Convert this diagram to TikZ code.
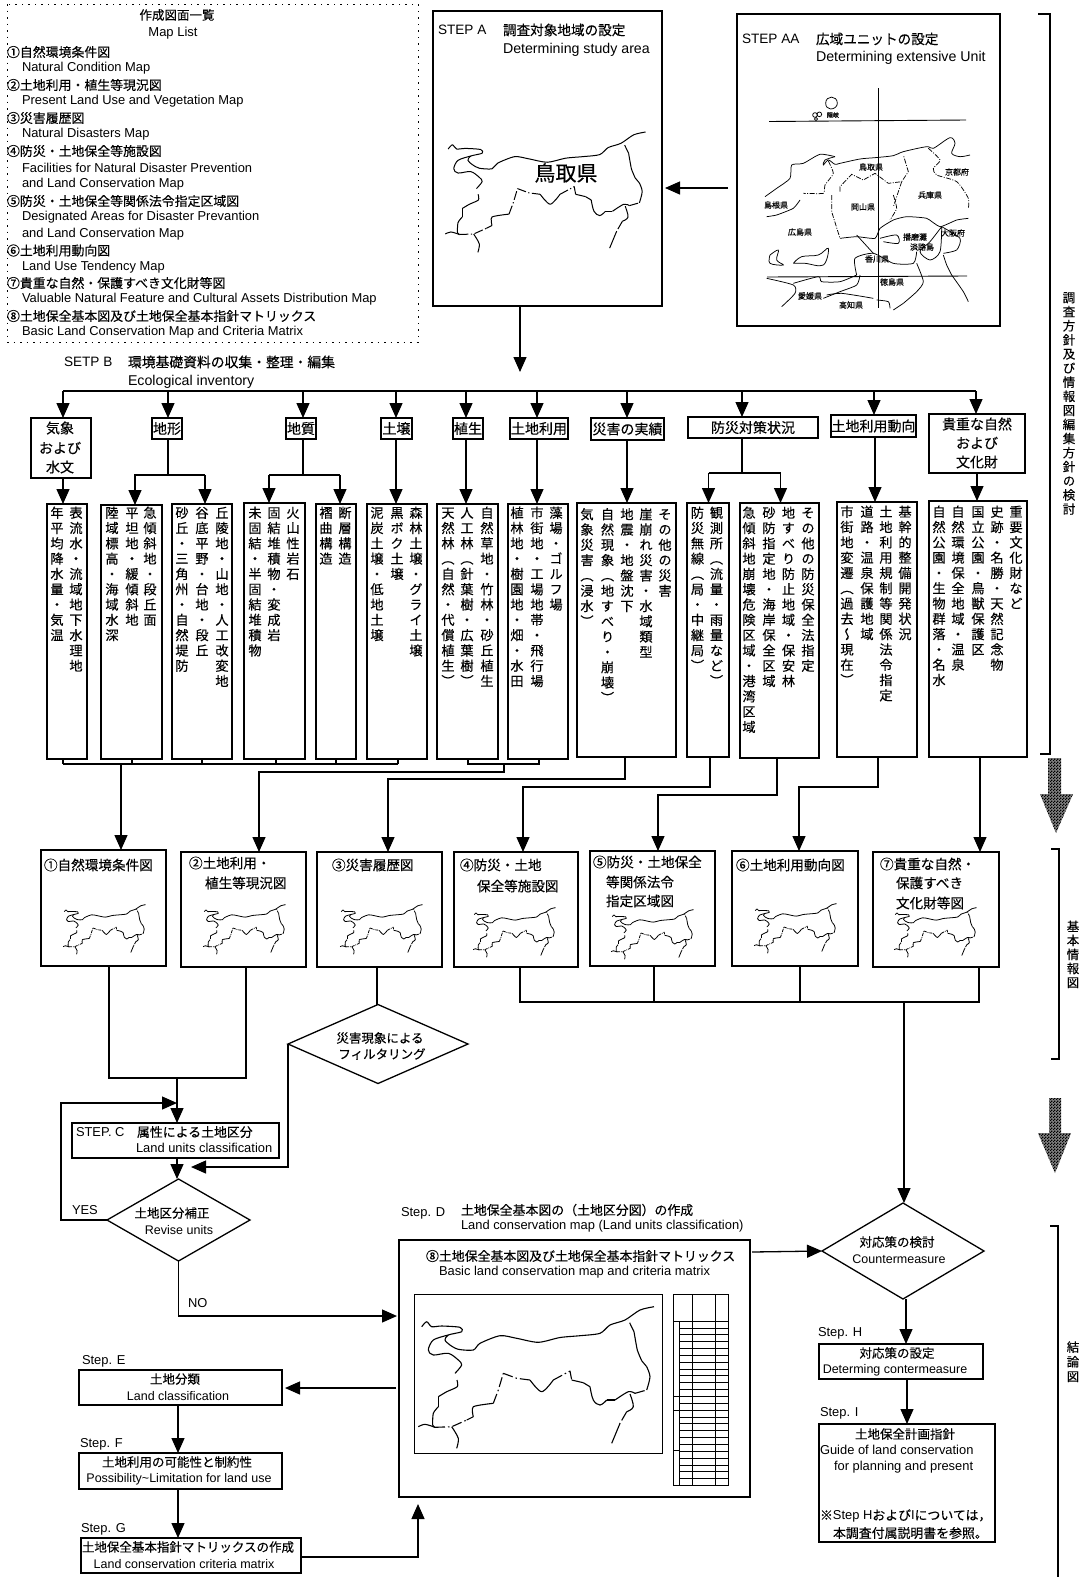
\documentclass[tikz,border=0pt]{standalone}
\usepackage{fontspec}
\setmainfont{Liberation Sans}
\newfontfamily\jp[FakeBold=0.25]{Noto Sans CJK JP}
\newfontfamily\jpv[RawFeature=+vert,FakeBold=0.25]{Noto Sans CJK JP}
\usetikzlibrary{arrows.meta,shapes.geometric,patterns}
\pgfdeclarepatternformonly{finechk}{\pgfqpoint{0pt}{0pt}}{\pgfqpoint{3pt}{3pt}}{\pgfqpoint{3pt}{3pt}}{%
  \pgfpathrectangle{\pgfqpoint{0pt}{0pt}}{\pgfqpoint{1.5pt}{1.5pt}}%
  \pgfpathrectangle{\pgfqpoint{1.5pt}{1.5pt}}{\pgfqpoint{1.5pt}{1.5pt}}%
  \pgfusepath{fill}}
\makeatletter
\newcommand\vcolumn[2]{\vbox{\offinterlineskip\jpv\@tfor\vcx:=#2\do{\hbox to 15pt{\hss\vrule height .8\dimexpr#1pt\relax depth .2\dimexpr#1pt\relax width 0pt\vcx\hss}}}}
\makeatother
\newcommand\J[1]{{\jp #1}}
\tikzset{
  x=1pt,y=-1pt,
  fs/.style={font=\fontsize{#1}{#1}\selectfont},
  boxed/.style={draw,line width=1.4pt,inner sep=0pt,outer sep=0pt,anchor=north west},
  tl/.style={anchor=west,inner sep=0pt,outer sep=0pt,fs=12.9},
  tc/.style={anchor=center,inner sep=0pt,outer sep=0pt,fs=12.5},
  hd/.style={anchor=center,inner sep=0pt,outer sep=0pt,fs=14},
  ttl/.style={anchor=west,inner sep=0pt,outer sep=0pt,fs=13.6},
  vt/.style={anchor=north,inner sep=0pt,outer sep=0pt,fs=13.2},
  wire/.style={line width=1.3pt},
  arr/.style={wire,-{Triangle[length=15pt,width=13pt]}},
  dia/.style={draw,shape=diamond,line width=1.3pt,inner sep=0pt,outer sep=0pt},
  aam/.style={line width=.75pt},
  aad/.style={line width=.75pt,dash pattern=on 5pt off 1.5pt on 1pt off 1.5pt},
  aal/.style={anchor=center,inner sep=0pt,outer sep=0pt,fs=8},
  hatch/.style={pattern=finechk,pattern color=black},
}
\newcommand\rbox[5]{\node[boxed,minimum width={(#4-#2)*1pt},minimum height={(#5-#3)*1pt}] (#1) at (#2,#3) {};}
\newcommand\vcl[4]{\node[vt] (#1) at (#2,#3) {\vcolumn{15.3}{#4}};}
\newcommand\tottori[5]{%
\begin{scope}[shift={(#1,#2)},scale=#3,line width=#4,line join=round]
\draw plot[smooth,tension=.45] coordinates {(3.7,4.7)(8.7,-.3)(13.7,4.7)(23.7,4)(42,5.3)(43.7,9.7)(30.3,13)(27,18)(32,23)(40.3,27.3)(55.3,28)(62,21.3)(82,13.7)(98.7,16.3)(120.3,20.3)(142,15.5)(162,13.7)(182,11.3)(192,3)(207,-2)(222,-12)(236,-15.3)};
\draw plot[smooth,tension=.5] coordinates {(30.3,13)(15.3,18)(10.3,28)(15.3,33)(30.3,31.3)(40.3,38)(43.7,43)(37,51.3)};
\draw plot[smooth,tension=.4] coordinates {(39,58)(39.3,64.7)(28.7,69.7)(20.3,74.7)};
\draw[dash pattern=#5] (20.3,74.7)--(20.3,84.7);
\draw plot[smooth,tension=.4] coordinates {(20.3,84.7)(15.3,91.3)(14.7,103)(17,105.3)};
\draw plot[smooth,tension=.5] coordinates {(0.3,104.7)(7,102.3)(17,105.3)};
\draw[dash pattern=#5] (17,105.3)--(33.7,104.7)--(48.7,98);
\draw plot[smooth,tension=.5] coordinates {(33.7,104.7)(40.3,116.3)(38.7,126.3)};
\draw[dash pattern=#5] (48.7,98)--(55.3,94.7);
\draw plot[smooth,tension=.4] coordinates {(55.3,94.7)(55.3,84.7)(75.3,81.3)};
\draw[dash pattern=#5] (75.3,81.3)--(80.3,68)--(85.3,51.3);
\draw[dash pattern=#5] (85.3,51.3)--(98.7,56.3)--(112,58);
\draw plot[smooth,tension=.5] coordinates {(112,58)(123.7,69.7)(135.3,58)};
\draw[dash pattern=#5] (135.3,58)--(152,49)--(153.7,58);
\draw plot[smooth,tension=.4] coordinates {(153.7,58)(165.3,60.7)};
\draw[dash pattern=#5] (165.3,60.7)--(172,64.7);
\draw plot[smooth,tension=.6] coordinates {(172,64.7)(175.3,78)(182,83)(188.7,78)};
\draw[dash pattern=#5] (188.7,78)--(197,78);
\draw plot[smooth,tension=.5] coordinates {(197,78)(210.3,69.7)(217,71.3)};
\draw[dash pattern=#5] (217,71.3)--(228.7,68);
\draw plot[smooth,tension=.5] coordinates {(228.7,68)(232,54.7)(228.7,44.7)};
\draw[dash pattern=#5] (228.7,44.7)--(223.7,38.7);
\draw plot[smooth,tension=.3] coordinates {(223.7,38.7)(219.3,28)(216,9.7)};
\draw[dash pattern=#5] (216,9.7)--(210.3,-2);
\draw plot[smooth,tension=.6] coordinates {(212,72)(215.3,84.7)(208.7,89.7)};
\draw[dash pattern=#5] (208.7,89.7)--(202,101.3);
\draw plot[smooth,tension=.3] coordinates {(202,101.3)(193.7,121.3)};
\end{scope}}
\newcommand\thumb[2]{\tottori{#1}{#2}{.35}{.8pt}{on 3pt off 1pt on .8pt off 1pt}}
\begin{document}
\begin{tikzpicture}
\useasboundingbox (0,0) rectangle (1081,1577);
\fill[white] (0,0) rectangle (1081,1577);
% ===== Map list
\draw[line width=1pt,dash pattern=on 1.5pt off 5pt] (7,4) rectangle (418,342);
\node[tc] (mlA) at (177,15) {\J{作成図面一覧}};
\node[tc,fs=13] (mlB) at (173,33.5) {Map List};
\node[tl] (ml1) at (7,52) {\J{①自然環境条件図}};
\node[tl] (ml2) at (22,68.5) {Natural Condition Map};
\node[tl] (ml3) at (7,85) {\J{②土地利用・植生等現況図}};
\node[tl] (ml4) at (22,101.5) {Present Land Use and Vegetation Map};
\node[tl] (ml5) at (7,118) {\J{③災害履歴図}};
\node[tl] (ml6) at (22,134.5) {Natural Disasters Map};
\node[tl] (ml7) at (7,151) {\J{④防災・土地保全等施設図}};
\node[tl] (ml8) at (22,167.5) {Facilities for Natural Disaster Prevention};
\node[tl] (ml9) at (22,184.5) {and Land Conservation Map};
\node[tl] (ml10) at (7,201) {\J{⑤防災・土地保全等関係法令指定区域図}};
\node[tl] (ml11) at (22,217.5) {Designated Areas for Disaster Prevantion};
\node[tl] (ml12) at (22,234) {and Land Conservation Map};
\node[tl] (ml13) at (7,250.5) {\J{⑥土地利用動向図}};
\node[tl] (ml14) at (22,267) {Land Use Tendency Map};
\node[tl] (ml15) at (7,283) {\J{⑦貴重な自然・保護すべき文化財等図}};
\node[tl] (ml16) at (22,299.5) {Valuable Natural Feature and Cultural Assets Distribution Map};
\node[tl] (ml17) at (7,316) {\J{⑧土地保全基本図及び土地保全基本指針マトリックス}};
\node[tl] (ml18) at (22,332.5) {Basic Land Conservation Map and Criteria Matrix};
% ===== Step A
\rbox{stepA}{433}{11}{662}{306}
\node[ttl] (aT1) at (438,30) {STEP A};
\node[ttl] (aT2) at (503,30) {\J{調査対象地域の設定}};
\node[ttl,fs=14.2] (aT3) at (503,50) {Determining study area};
\tottori{445}{145}{.85}{1pt}{on 9pt off 2.5pt on 1.2pt off 2.5pt}
\node[anchor=center,inner sep=0pt,fs=21] (aT4) at (566,173) {\J{鳥取県}};
% ===== Step AA
\rbox{stepAA}{737}{14}{1000}{326}
\node[ttl] (aaT1) at (742,39) {STEP AA};
\node[ttl] (aaT2) at (816,39) {\J{広域ユニットの設定}};
\node[ttl,fs=14.2] (aaT3) at (816,58) {Determining extensive Unit};
\draw[line width=.9pt] (878.5,88)--(878.5,308);
\draw[line width=.9pt] (769,121.5)--(966,120);
\draw[line width=.9pt] (767,277)--(967,276);
\begin{scope}[shift={(760,85)},scale=1/3]
 \draw[aam] (197,55) .. controls (197,30) and (232,30) .. (232,55) .. controls (232,65) and (222,72) .. (212,72) .. controls (204,72) and (197,65) .. (197,55) -- cycle;
 \draw[aam] (165,90) circle (7); \draw[aam] (178,88) circle (7); \draw[aam] (168,102) circle (5);
 \draw[aam] plot[smooth,tension=.4] coordinates {(15,335)(50,310)(90,280)(95,240)(130,235)(180,208)(225,215)};
 \draw[aam] plot[smooth,tension=.5] coordinates {(225,215)(195,225)(190,240)(205,225)(225,238)(240,235)(300,222)(345,218)(400,212)(430,200)(500,185)(520,190)(570,158)(585,175)(575,205)(600,215)(630,210)};
 \draw[aad] plot[smooth,tension=.3] coordinates {(205,228)(220,265)(195,300)(190,325)(130,325)};
 \draw[aad] (240,320)--(240,305)--(275,268)--(310,285)--(345,265)--(385,295)--(425,290)--(445,260)--(430,210);
 \draw[aad] (425,290)--(400,365);
 \draw[aad] plot[smooth,tension=.4] coordinates {(505,190)(540,225)(520,250)(530,270)(590,290)(625,340)(625,370)};
\end{scope}
\begin{scope}[shift={(760,195)},scale=1/3]
 \draw[aam] plot[smooth,tension=.3] coordinates {(20,65)(50,60)(100,40)(120,15)};
 \draw[aam] plot[smooth,tension=.3] coordinates {(240,130)(290,125)(345,130)(360,100)(400,75)(440,65)(500,70)(540,95)(590,75)(625,70)};
 \draw[aam] plot[smooth,tension=.5] coordinates {(545,95)(510,140)(480,170)(510,195)(540,170)(545,95)};
 \draw[aam] plot[smooth,tension=.4] coordinates {(545,95)(600,130)(590,165)(550,175)};
 \draw[aad] (215,0)--(215,50)--(240,130);
 \draw[aad] plot[smooth,tension=.3] coordinates {(400,0)(410,40)(390,75)};
 \draw[aam] plot[smooth,tension=.4] coordinates {(20,250)(100,270)(105,295)(65,335)};
 \draw[aam] plot[smooth,tension=.4] coordinates {(100,265)(175,245)(185,260)(240,260)(290,240)};
 \draw[aam] plot[smooth,tension=.4] coordinates {(290,240)(285,190)(340,175)(400,205)(460,205)(470,170)};
 \draw[aam] plot[smooth,tension=.4] coordinates {(470,205)(490,260)(470,290)(430,325)};
 \draw[aam] plot[smooth,tension=.4] coordinates {(575,240)(560,210)(550,180)};
 \draw[aam] plot[smooth,tension=.4] coordinates {(575,240)(610,290)(625,320)};
 \draw[aam] plot[smooth,tension=.4] coordinates {(190,310)(240,290)(290,270)(300,240)};
 \draw[aam] plot[smooth,tension=.4] coordinates {(340,175)(290,120)};
 \draw[aam] plot[smooth,tension=.6] coordinates {(30,180)(55,165)(50,195)(70,210)(30,205)(30,180)};
 \draw[aam] plot[smooth,tension=.6] coordinates {(100,205)(125,185)(175,180)(205,160)(190,210)(135,205)(100,205)};
 \draw[aam] plot[smooth,tension=.5] coordinates {(360,130)(410,120)(415,145)(370,140)};
 \draw[aam] plot[smooth,tension=.4] coordinates {(430,325)(400,345)};
 \draw[aam] plot[smooth,tension=.4] coordinates {(350,315)(385,320)(390,340)};
 \draw[aam] plot[smooth,tension=.4] coordinates {(200,300)(245,295)(340,310)};
\end{scope}
\node[aal,fs=6] (aaL0) at (833,115) {\J{隠岐}};
\node[aal] (aaL1) at (871,167) {\J{鳥取県}};
\node[aal] (aaL2) at (957,172) {\J{京都府}};
\node[aal] (aaL3) at (930,195) {\J{兵庫県}};
\node[aal] (aaL4) at (776,205) {\J{島根県}};
\node[aal] (aaL5) at (863,207) {\J{岡山県}};
\node[aal] (aaL6) at (800,232) {\J{広島県}};
\node[aal] (aaL7) at (915,237) {\J{播磨灘}};
\node[aal] (aaL8) at (922,247) {\J{淡路島}};
\node[aal] (aaL9) at (953,233) {\J{大阪府}};
\node[aal] (aaL10) at (877,259) {\J{香川県}};
\node[aal] (aaL11) at (892,282) {\J{徳島県}};
\node[aal] (aaL12) at (810,296) {\J{愛媛県}};
\node[aal] (aaL13) at (851,305) {\J{高知県}};
\coordinate (aaOut) at (728,188);
\coordinate (aaTip) at (665,188);
\draw[arr] (aaOut) -- (aaTip);
% ===== Step B
\node[ttl] (bT1) at (64,362) {SETP B};
\node[ttl,fs=13.8] (bT2) at (128,362) {\J{環境基礎資料の収集・整理・編集}};
\node[ttl,fs=14.2] (bT3) at (128,382) {Ecological inventory};
\coordinate (busL) at (63,391);
\coordinate (busR) at (976,391);
\draw[wire] (busL) -- (busR);
\draw[arr] (520,0 |- stepA.south) -- (520,372);
% headers
\rbox{h1}{31}{418}{91}{478}
\rbox{h2}{152}{418}{182}{439}
\rbox{h3}{286}{418}{316}{439}
\rbox{h4}{381}{418}{412}{439}
\rbox{h5}{453}{418}{483}{439}
\rbox{h6}{510}{418}{568}{439}
\rbox{h7}{591}{418}{664}{440}
\rbox{h8}{688}{417}{818}{438}
\rbox{h9}{831}{415}{916}{437}
\rbox{h10}{929}{414}{1025}{473}
\node[hd] (h1a) at (60,428) {\J{気象}};
\node[hd] (h1b) at (60,448) {\J{および}};
\node[hd] (h1c) at (60,467) {\J{水文}};
\node[hd] (h2a) at (h2) {\J{地形}};
\node[hd] (h3a) at (h3) {\J{地質}};
\node[hd] (h4a) at (h4) {\J{土壌}};
\node[hd] (h5a) at (h5) {\J{植生}};
\node[hd] (h6a) at (h6) {\J{土地利用}};
\node[hd] (h7a) at (h7) {\J{災害の実績}};
\node[hd] (h8a) at (h8) {\J{防災対策状況}};
\node[hd] (h9a) at (h9) {\J{土地利用動向}};
\node[hd] (h10a) at (977,424) {\J{貴重な自然}};
\node[hd] (h10b) at (977,443) {\J{および}};
\node[hd] (h10c) at (977,462) {\J{文化財}};
\foreach \xx/\nn in {63/h1,168/h2,303/h3,396/h4,466/h5,537/h6,627/h7,742/h8,874/h9,976/h10}
  \draw[arr] (\xx,391) -- (\xx,0 |- \nn.north);
% content boxes
\rbox{c1}{47}{504}{87}{759}
\rbox{c2}{101}{505}{162}{759}
\rbox{c3}{172}{504}{232}{759}
\rbox{c4}{244}{503}{305}{759}
\rbox{c5}{316}{504}{356}{759}
\rbox{c6}{367}{504}{427}{759}
\rbox{c7}{437}{504}{498}{759}
\rbox{c8}{508}{504}{568}{759}
\rbox{c9}{577}{503}{676}{757}
\rbox{c10}{687}{503}{729}{757}
\rbox{c11}{740}{503}{819}{758}
\rbox{c12}{837}{502}{917}{757}
\rbox{c13}{929}{501}{1027}{757}
\vcl{v1a}{76}{505.5}{表流水・流域地下水理地}
\vcl{v1b}{57}{505.5}{年平均降水量・気温}
\vcl{v2a}{150}{505.5}{急傾斜地・段丘面}
\vcl{v2b}{132}{505.5}{平坦地・緩傾斜地}
\vcl{v2c}{112}{505.5}{陸域標高・海域水深}
\vcl{v3a}{222}{505.5}{丘陵地・山地・人工改変地}
\vcl{v3b}{202}{505.5}{谷底平野・台地・段丘}
\vcl{v3c}{182}{505.5}{砂丘・三角州・自然堤防}
\vcl{v4a}{293}{505.5}{火山性岩石}
\vcl{v4b}{274}{505.5}{固結堆積物・変成岩}
\vcl{v4c}{255}{505.5}{未固結・半固結堆積物}
\vcl{v5a}{345}{505.5}{断層構造}
\vcl{v5b}{326}{505.5}{褶曲構造}
\vcl{v6a}{416}{505.5}{森林土壌・グライ土壌}
\vcl{v6b}{397}{505.5}{黒ボク土壌}
\vcl{v6c}{377}{505.5}{泥炭土壌・低地土壌}
\vcl{v7a}{487}{505.5}{自然草地・竹林・砂丘植生}
\vcl{v7b}{467}{505.5}{人工林（針葉樹・広葉樹）}
\vcl{v7c}{448}{505.5}{天然林（自然・代償植生）}
\vcl{v8a}{556}{505.5}{藻場・ゴルフ場}
\vcl{v8b}{537}{505.5}{市街地・工場地帯・飛行場}
\vcl{v8c}{517}{505.5}{植林地・樹園地・畑・水田}
\vcl{v9a}{665}{507}{その他の災害}
\vcl{v9b}{646}{507}{崖崩れ災害・水域類型}
\vcl{v9c}{627}{507}{地震・地盤沈下}
\vcl{v9d}{607.5}{507}{自然現象（地すべり・崩壊）}
\vcl{v9e}{587}{507}{気象災害（浸水）}
\vcl{v10a}{716.5}{505.5}{観測所（流量・雨量など）}
\vcl{v10b}{697.5}{505.5}{防災無線（局・中継局）}
\vcl{v11a}{808}{505.5}{その他の防災保全法指定}
\vcl{v11b}{788.5}{505.5}{地すべり防止地域・保安林}
\vcl{v11c}{769}{505.5}{砂防指定地・海岸保全区域}
\vcl{v11d}{749}{505.5}{急傾斜地崩壊危険区域・港湾区域}
\vcl{v12a}{905}{504.5}{基幹的整備開発状況}
\vcl{v12b}{886}{504.5}{土地利用規制等関係法令指定}
\vcl{v12c}{867}{504.5}{道路・温泉保護地域}
\vcl{v12d}{847}{504.5}{市街地変遷（過去～現在）}
\vcl{v13a}{1016}{504.5}{重要文化財など}
\vcl{v13b}{997}{504.5}{史跡・名勝・天然記念物}
\vcl{v13c}{978}{504.5}{国立公園・鳥獣保護区}
\vcl{v13d}{958}{504.5}{自然環境保全地域・温泉}
\vcl{v13e}{939}{504.5}{自然公園・生物群落・名水}
% header to content
\draw[arr] (63,0 |- h1.south) -- (63,0 |- c1.north);
\draw[wire] (168,0 |- h2.south) -- (168,475);
\draw[wire] (134,475) -- (205,475);
\draw[arr] (135,475) -- (135,0 |- c2.north);
\draw[arr] (205,475) -- (205,0 |- c3.north);
\draw[wire] (303,0 |- h3.south) -- (303,475);
\draw[wire] (269,475) -- (340,475);
\draw[arr] (269,475) -- (269,0 |- c4.north);
\draw[arr] (340,475) -- (340,0 |- c5.north);
\draw[arr] (396,0 |- h4.south) -- (396,0 |- c6.north);
\draw[arr] (466,0 |- h5.south) -- (466,0 |- c7.north);
\draw[arr] (537,0 |- h6.south) -- (537,0 |- c8.north);
\draw[arr] (627,0 |- h7.south) -- (627,0 |- c9.north);
\draw[wire] (742,0 |- h8.south) -- (742,473);
\draw[wire] (708.5,473) -- (780.5,473);
\draw[arr] (708.5,473) -- (708.5,0 |- c10.north);
\draw[arr] (780.5,473) -- (780.5,0 |- c11.north);
\draw[arr] (875,0 |- h9.south) -- (875,0 |- c12.north);
\draw[arr] (977,0 |- h10.south) -- (977,0 |- c13.north);
% info maps
\rbox{m1}{41}{850}{166}{966}
\rbox{m2}{181}{852}{306}{967}
\rbox{m3}{317}{852}{442}{967}
\rbox{m4}{454}{852}{578}{967}
\rbox{m5}{590}{851}{715}{966}
\rbox{m6}{732}{851}{858}{966}
\rbox{m7}{873}{852}{999}{967}
\node[ttl] (m1a) at (44,865) {\J{①自然環境条件図}};
\node[ttl] (m2a) at (189,863) {\J{②土地利用・}};
\node[ttl] (m2b) at (205,883) {\J{植生等現況図}};
\node[ttl] (m3a) at (332,865) {\J{③災害履歴図}};
\node[ttl] (m4a) at (460,865) {\J{④防災・土地}};
\node[ttl] (m4b) at (477,886) {\J{保全等施設図}};
\node[ttl] (m5a) at (593,862) {\J{⑤防災・土地保全}};
\node[ttl] (m5b) at (606,882) {\J{等関係法令}};
\node[ttl] (m5c) at (606,901) {\J{指定区域図}};
\node[ttl] (m6a) at (736,865) {\J{⑥土地利用動向図}};
\node[ttl] (m7a) at (880,864) {\J{⑦貴重な自然・}};
\node[ttl] (m7b) at (896,883) {\J{保護すべき}};
\node[ttl] (m7c) at (896,903) {\J{文化財等図}};
\thumb{63}{910}
\thumb{203}{910}
\thumb{340}{910}
\thumb{473}{913}
\thumb{611}{915}
\thumb{754}{909}
\thumb{894}{913}
% content to maps
\draw[wire] (63,0 |- c1.south) -- (63,764);
\draw[wire] (132,0 |- c2.south) -- (132,764);
\draw[wire] (202,0 |- c3.south) -- (202,764);
\draw[wire] (276,0 |- c4.south) -- (276,764);
\draw[wire] (336,0 |- c5.south) -- (336,764);
\draw[wire] (398,0 |- c6.south) -- (398,764);
\draw[wire] (63,764) -- (398,764);
\draw[arr] (121,764) -- (121,0 |- m1.north);
\draw[wire] (468,0 |- c7.south) -- (468,764) -- (539,764) -- (539,0 |- c8.south);
\draw[arr] (504,764) -- (504,772) -- (259,772) -- (259,0 |- m2.north);
\draw[arr] (625,0 |- c9.south) -- (625,779) -- (388,779) -- (388,0 |- m3.north);
\draw[arr] (710,0 |- c10.south) -- (710,787) -- (523,787) -- (523,0 |- m4.north);
\draw[arr] (777,0 |- c11.south) -- (777,795) -- (658,795) -- (658,0 |- m5.north);
\draw[arr] (878,0 |- c12.south) -- (878,787) -- (799,787) -- (799,0 |- m6.north);
\draw[arr] (980,0 |- c13.south) -- (980,0 |- m7.north);
% lower flows
\draw[wire] (520,0 |- m4.south) -- (520,1002) -- (979,1002) -- (979,0 |- m7.south);
\draw[wire] (654,0 |- m5.south) -- (654,1002);
\draw[wire] (800,0 |- m6.south) -- (800,1002);
\node[dia,minimum width=162pt,minimum height=96pt,aspect=1.69] (cm) at (903,1251) {};
\draw[arr] (904,1002) -- (904,0 |- cm.north);
\node[tc] (cmT1) at (897,1242) {\J{対応策の検討}};
\node[tc] (cmT2) at (899,1259) {Countermeasure};
% step C
\rbox{sc}{72}{1123}{279}{1158}
\node[tl] (scT1) at (76,1132) {STEP. C};
\node[tl] (scT2) at (137,1132) {\J{属性による土地区分}};
\node[tl] (scT3) at (136,1148) {Land units classification};
\draw[wire] (109,0 |- m1.south) -- (109,1078) -- (246,1078) -- (246,0 |- m2.south);
\draw[arr] (177,1078) -- (177,0 |- sc.north);
\node[dia,minimum width=180pt,minimum height=79pt,aspect=2.28] (flt) at (378,1044) {};
\draw[wire] (377,0 |- m3.south) -- (377,0 |- flt.north);
\node[tc] (fltT1) at (380,1038) {\J{災害現象による}};
\node[tc] (fltT2) at (382,1054) {\J{フィルタリング}};
\coordinate (fltEnd) at (191,1167);
\draw[arr] (flt.west) -- (288,1167) -- (fltEnd);
\node[dia,minimum width=143pt,minimum height=82pt,aspect=1.74] (rv) at (178.5,1220) {};
\draw[arr] (177,0 |- sc.south) -- (177,0 |- rv.north);
\node[tc] (rvT1) at (172,1213) {\J{土地区分補正}};
\node[tc] (rvT2) at (179,1230) {Revise units};
\coordinate (loopTip) at (177,1103);
\draw[arr] (rv.west) -- (61,1220) -- (61,1103) -- (loopTip);
\node[tl] (yes) at (72,1210) {YES};
\node[tl] (no) at (188,1303) {NO};
% step D
\node[tl] (dT1) at (401,1213) {Step. D};
\node[tl] (dT2) at (461,1210) {\J{土地保全基本図の（土地区分図）の作成}};
\node[tl] (dT3) at (461,1226) {Land conservation map (Land units classification)};
\rbox{sd}{399}{1240}{750}{1497}
\node[tl] (dT4) at (426,1256) {\J{⑧土地保全基本図及び土地保全基本指針マトリックス}};
\node[tl] (dT5) at (439,1272) {Basic land conservation map and criteria matrix};
\draw[line width=1pt] (414,1294) rectangle (662,1453);
\tottori{418}{1322}{1}{1.1pt}{on 10pt off 3pt on 1.5pt off 3pt}
% matrix
\draw[line width=.8pt] (673,1294) rectangle (728,1485);
\draw[line width=.8pt] (692,1294) -- (692,1485);
\draw[line width=.8pt] (715,1294) -- (715,1485);
\draw[line width=.8pt] (673,1321) -- (728,1321);
\draw[line width=.8pt] (679,1321) -- (679,1485);
\foreach \i in {1,...,23} \draw[line width=.7pt] (679,{1321+\i*6.85}) -- (728,{1321+\i*6.85});
\draw[line width=.7pt] (673,1396.5) -- (679,1396.5);
\draw[line width=.7pt] (673,1410) -- (679,1410);
\draw[line width=.7pt] (673,1450.5) -- (679,1450.5);
\draw[arr] (178.8,0 |- rv.south) -- (178.8,1316) -- (397,1316);
\draw[arr] (752,1252) -- (cm.west);
% E F G
\rbox{se}{79}{1370}{282}{1405}
\rbox{sf}{79}{1453}{282}{1489}
\rbox{sg}{81}{1538}{301}{1573}
\node[tl] (eL) at (82,1361) {Step. E};
\node[tc] (eT1) at (175,1379) {\J{土地分類}};
\node[tc] (eT2) at (178,1396) {Land classification};
\node[tl] (fL) at (80,1444) {Step. F};
\node[tc] (fT1) at (177,1462) {\J{土地利用の可能性と制約性}};
\node[tc] (fT2) at (179,1479) {Possibility\textasciitilde Limitation for land use};
\node[tl] (gL) at (81,1529) {Step. G};
\node[tc] (gT1) at (188,1547) {\J{土地保全基本指針マトリックスの作成}};
\node[tc] (gT2) at (184,1564) {Land conservation criteria matrix};
\draw[arr] (396,1388) -- (285,1388);
\draw[arr] (178,0 |- se.south) -- (178,0 |- sf.north);
\draw[arr] (178,0 |- sf.south) -- (178,0 |- sg.north);
\draw[arr] (sg.east |- 0,1557) -- (418,1557) -- (418,1504);
% H I
\rbox{sh}{819}{1344}{983}{1379}
\rbox{si}{819}{1424}{995}{1542}
\node[tl] (hL) at (818,1333) {Step. H};
\node[tc] (hT1) at (897,1353) {\J{対応策の設定}};
\node[tc] (hT2) at (895,1370) {Determing contermeasure};
\node[tl] (iL) at (820,1413) {Step. I};
\node[tc] (iT1) at (905,1434) {\J{土地保全計画指針}};
\node[tl] (iT2) at (820,1450) {Guide of land conservation};
\node[tl] (iT3) at (834,1467) {for planning and present};
\node[tl] (iT4) at (820,1516) {\J{※}Step H\J{および}I\J{については，}};
\node[tl] (iT5) at (833,1533) {\J{本調査付属説明書を参照。}};
\draw[arr] (906,0 |- cm.south) -- (906,0 |- sh.north);
\draw[arr] (907,0 |- sh.south) -- (907,0 |- si.north);
% brackets
\draw[wire] (1038,14) -- (1050,14) -- (1050,754) -- (1040,754);
\draw[wire] (1051,849) -- (1059,849) -- (1059,1059) -- (1051,1059);
\draw[wire] (1050,1226) -- (1058,1226) -- (1058,1577);
\node[vt,fs=12.5] (sideA) at (1069,291) {\vcolumn{14.1}{調査方針及び情報図編集方針の検討}};
\node[vt,fs=12.5] (sideB) at (1073,920) {\vcolumn{14}{基本情報図}};
\node[vt,fs=12.5] (sideC) at (1073,1340) {\vcolumn{14.7}{結論図}};
% hatched arrows
\path[fill=black!50] (1048,758) -- (1061,758) -- (1061,794) -- (1073,794) -- (1056,833) -- (1040,794) -- (1048,794) -- cycle;
\path[hatch] (1048,758) -- (1061,758) -- (1061,794) -- (1073,794) -- (1056,833) -- (1040,794) -- (1048,794) -- cycle;
\path[fill=black!50] (1049,1098) -- (1061,1098) -- (1061,1133) -- (1071,1133) -- (1055,1173) -- (1038,1133) -- (1049,1133) -- cycle;
\path[hatch] (1049,1098) -- (1061,1098) -- (1061,1133) -- (1071,1133) -- (1055,1173) -- (1038,1133) -- (1049,1133) -- cycle;
\end{tikzpicture}
\end{document}
